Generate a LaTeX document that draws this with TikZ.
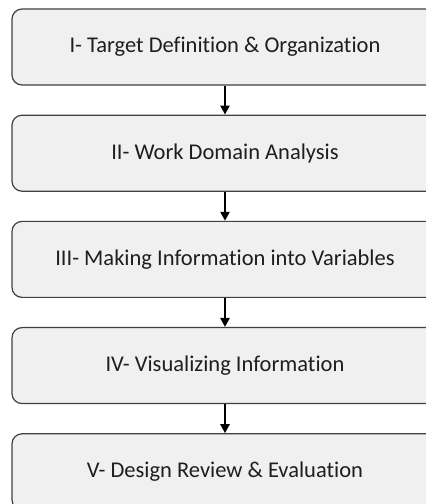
\documentclass[tikz,border=0pt]{standalone}
\usepackage{fontspec}
\setmainfont{Carlito}[RawFeature=-liga]
\usetikzlibrary{positioning, arrows.meta}
\definecolor{boxfill}{HTML}{F0F0F0}
\definecolor{boxline}{HTML}{404040}
\definecolor{textcolor}{HTML}{1E1E1E}
\tikzset{
    stage box/.style = {rectangle, rounded corners=10pt, draw=boxline, line width=1.2pt,
        fill=boxfill, text=textcolor, minimum width=426pt, minimum height=76pt,
        inner sep=0pt, font=\fontsize{22.5}{26}\selectfont},
    flow arrow/.style = {line width=2.3pt, -{Triangle[width=9pt, length=9pt]}}
}

\begin{document}
\begin{tikzpicture}
        % page frame, the boxes run off the right edge
        \clip (0, 0) rectangle (426pt, 504pt);
        % draw stages
        \node[stage box] (s1) at (225pt, 457pt) {I- Target Definition \& Organization};
        \node[stage box, below=29pt of s1] (s2) {II- Work Domain Analysis};
        \node[stage box, below=29pt of s2] (s3) {III- Making Information into Variables};
        \node[stage box, below=29pt of s3] (s4) {IV- Visualizing Information};
        \node[stage box, below=29pt of s4] (s5) {V- Design Review \& Evaluation};
        % draw arrows
        \foreach \a/\b in {s1/s2, s2/s3, s3/s4, s4/s5}
            \draw[flow arrow] (\a) -- (\b);
\end{tikzpicture}
\end{document}
